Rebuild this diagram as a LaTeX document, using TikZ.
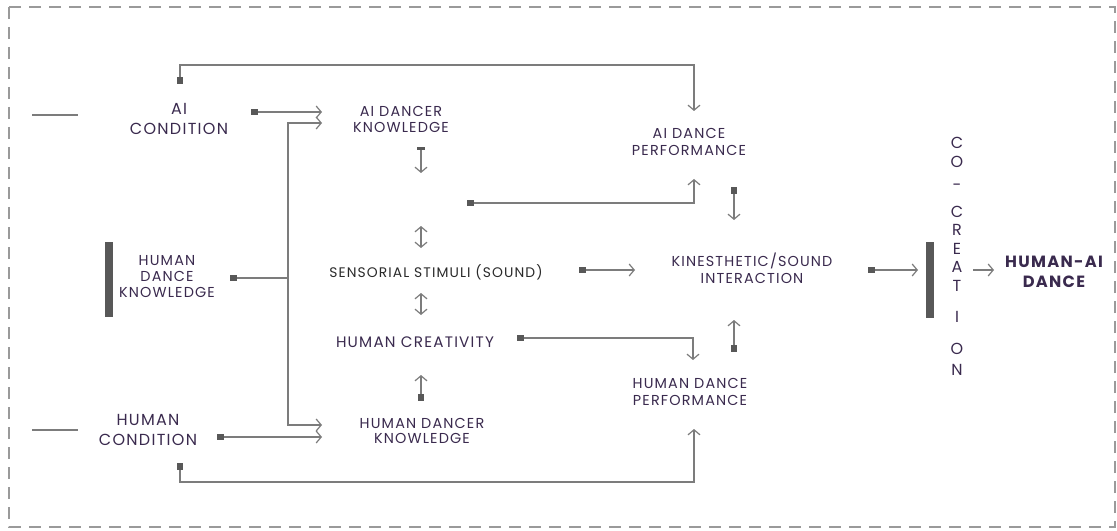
\documentclass[tikz,border=0pt]{standalone}
\usepackage{fontspec}
\setmainfont[LetterSpace=8]{Poppins}
\usetikzlibrary{arrows.meta}
\definecolor{txt}{HTML}{3A2A4E}
\definecolor{ln}{HTML}{7C7C7C}
\definecolor{mk}{HTML}{585858}
\definecolor{dk}{HTML}{2A2A2A}
\definecolor{fr}{HTML}{9A9A9A}
\begin{document}
\begin{tikzpicture}[x=0.75pt,y=-0.75pt,
  lbl/.style={text=txt, font=\fontsize{10.8}{12}\selectfont, align=center, inner sep=0pt},
  big/.style={lbl, font=\fontsize{12}{14.4}\selectfont},
  tip/.tip={Straight Barb[length=3.8pt,width=9pt,line width=0.9pt]},
  sq/.tip={Square[length=5pt,width=5pt,color=mk]},
  flat/.tip={Rectangle[length=2.2pt,width=6pt,color=mk]},
  conn/.style={draw=ln, line width=1.1pt, sq-tip},
  plain/.style={draw=ln, line width=1.1pt},
  arr/.style={draw=ln, line width=1.1pt, -tip},
  dbl/.style={draw=ln, line width=1.1pt, tip-tip},
  frame/.style={draw=fr, line width=1.1pt, dash pattern=on 9pt off 6pt},
  bar/.style={fill=mk, draw=none}]
\useasboundingbox (0,0) rectangle (1117,531);
\draw[frame] (9,7) rectangle (1115,527);

% labels
\node[big] (aicond) at (179,119) {AI\\CONDITION};
\node[big] (humcond) at (148,430) {HUMAN\\CONDITION};
\node[lbl] (hdk) at (167,277) {HUMAN\\DANCE\\KNOWLEDGE};
\node[lbl] (aidk) at (401,119) {AI DANCER\\KNOWLEDGE};
\node[lbl, text=dk, font=\fontsize{10.4}{12}\selectfont] (ss) at (436,272) {SENSORIAL STIMULI (SOUND)};
\node[lbl, font=\fontsize{11.4}{13}\selectfont] (hc) at (415,342) {HUMAN CREATIVITY};
\node[lbl, font=\fontsize{10.8}{11.4}\selectfont] (hdkn) at (422,431) {HUMAN DANCER\\KNOWLEDGE};
\node[lbl, font=\fontsize{10.8}{12.8}\selectfont] (aidp) at (689,142) {AI DANCE\\PERFORMANCE};
\node[lbl, font=\fontsize{10.8}{12.8}\selectfont] (ksi) at (752,268) {KINESTHETIC/SOUND\\INTERACTION};
\node[lbl, font=\fontsize{10.8}{12.8}\selectfont] (hdp) at (690,392) {HUMAN DANCE\\PERFORMANCE};
\node[lbl, font=\bfseries\fontsize{12.2}{15}\selectfont] (had) at (1054,272) {HUMAN-AI\\DANCE};

% CO-CREATION vertical
\foreach \l/\yy [count=\i] in {C/143,O/162,-/187,C/212,R/230,E/249,A/267,T/286,I/317,O/349,N/370}
  \node[lbl, font=\fontsize{12}{12}\selectfont] (cc\i) at (957,\yy) {\l};

% bars
\fill[bar] (105,242) rectangle (113,317);
\fill[bar] (926,242) rectangle (934,318);

% coordinates
\coordinate (l1a) at (32,115); \coordinate (l1b) at (78,115);
\coordinate (l2a) at (32,430); \coordinate (l2b) at (78,430);
\coordinate (m1) at (180,84);
\coordinate (m2) at (251,112); \coordinate (e2) at (322,112);
\coordinate (e3a) at (322,123); \coordinate (e3b) at (322,425);
\coordinate (m4) at (230,278); \coordinate (e4) at (288,278);
\coordinate (m5) at (217,437); \coordinate (e5) at (322,437);
\coordinate (m6) at (180,463); \coordinate (e6) at (694,429);
\coordinate (m7) at (467,203); \coordinate (e7) at (694,179);
\coordinate (e1) at (694,111);
\coordinate (m8) at (734,187); \coordinate (e8) at (734,220);
\coordinate (m9) at (421,147); \coordinate (e9) at (421,173);
\coordinate (d1a) at (421,226); \coordinate (d1b) at (421,248);
\coordinate (d2a) at (421,293); \coordinate (d2b) at (421,315);
\coordinate (m11) at (517,338); \coordinate (e11) at (693,360);
\coordinate (m12) at (421,401); \coordinate (e12) at (421,375);
\coordinate (m13) at (734,352); \coordinate (e13) at (734,320);
\coordinate (m14) at (579,270); \coordinate (e14) at (635,270);
\coordinate (m15) at (868,270); \coordinate (e15) at (918,270);
\coordinate (m16) at (973,270); \coordinate (e16) at (994,270);

% lines
\draw[plain] (l1a) -- (l1b);
\draw[plain] (l2a) -- (l2b);
\draw[conn] (m1) |- (e1 |- 0,65) -- (e1);
\draw[conn] (m2) -- (e2);
\draw[dbl] (e3a) -- (288,123) -- (288,425) -- (e3b);
\draw[draw=ln, line width=1.1pt, sq-] (m4) -- (e4);
\draw[conn] (m5) -- (e5);
\draw[conn] (m6) |- (e6 |- 0,482) -- (e6);
\draw[conn] (m7) -| (e7);
\draw[conn] (m8) -- (e8);
\draw[draw=ln, line width=1.1pt, flat-tip] (m9) -- (e9);
\draw[dbl] (d1a) -- (d1b);
\draw[dbl] (d2a) -- (d2b);
\draw[conn] (m11) -| (e11);
\draw[conn] (m12) -- (e12);
\draw[conn] (m13) -- (e13);
\draw[conn] (m14) -- (e14);
\draw[conn] (m15) -- (e15);
\draw[arr] (m16) -- (e16);
\end{tikzpicture}
\end{document}
